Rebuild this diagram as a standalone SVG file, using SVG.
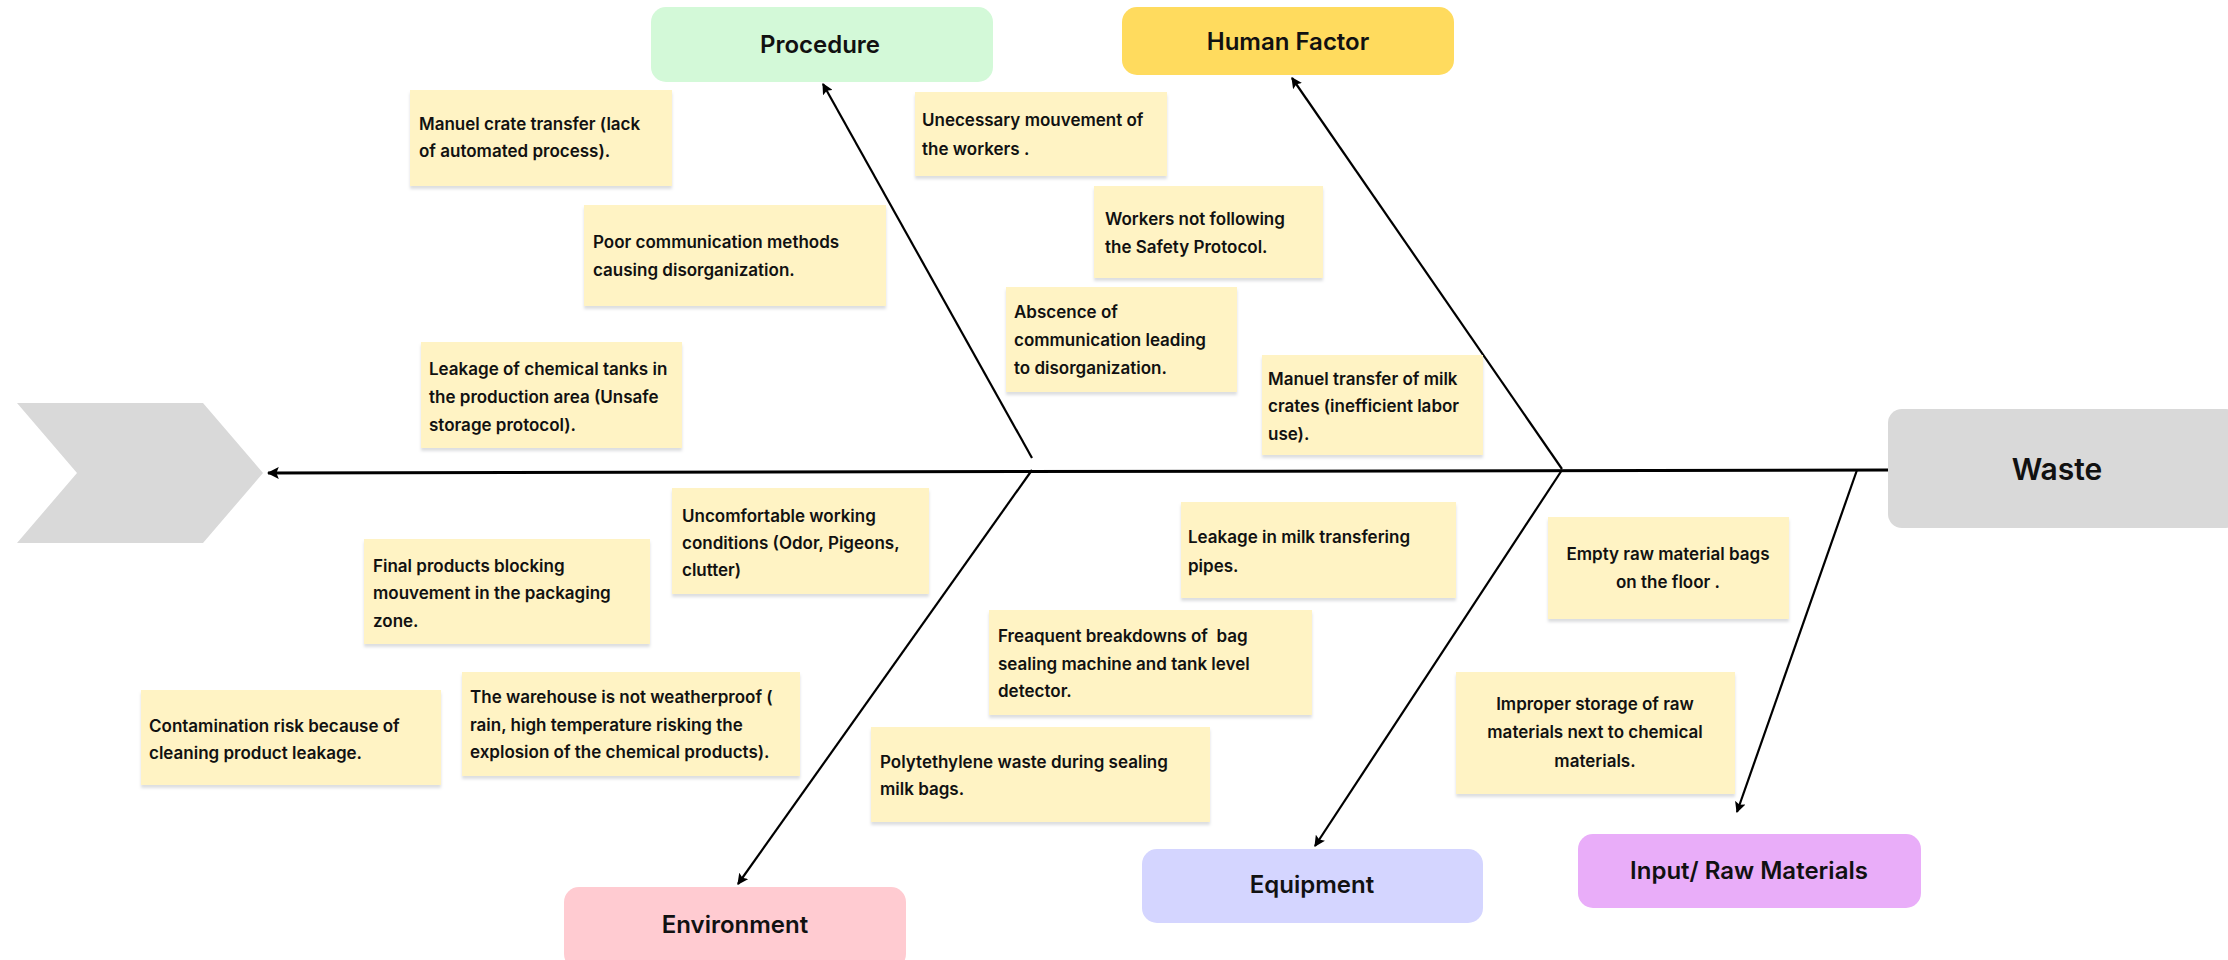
<svg xmlns="http://www.w3.org/2000/svg" width="2228" height="960" viewBox="0 0 2228 960">
  <defs>
    <style>
      .note { fill: #FFF3C4; filter: url(#noteShadow); }
      .nt { font-family: Inter, "Liberation Sans", sans-serif; font-size: 17px; font-weight: 600; fill: #111; }
      .ntc { font-family: Inter, "Liberation Sans", sans-serif; font-size: 17px; font-weight: 600; fill: #111; text-anchor: middle; }
      .cat { font-family: Inter, "Liberation Sans", sans-serif; font-size: 24px; font-weight: 600; fill: #111; text-anchor: middle; }
      .bone { stroke: #000; stroke-width: 2.2; fill: none; marker-end: url(#head); }
      .spine { stroke: #000; stroke-width: 3; fill: none; marker-end: url(#headSpine); }
    </style>
    <filter id="noteShadow" x="-5%" y="-5%" width="110%" height="120%">
      <feDropShadow dx="0" dy="3" stdDeviation="1.5" flood-color="#9aa0a6" flood-opacity="0.35"/>
    </filter>
    <marker id="head" viewBox="0 0 10 10" refX="9" refY="5" markerWidth="5" markerHeight="5" orient="auto" markerUnits="strokeWidth">
      <path d="M0,0 L10,5 L0,10 L2,5 Z" fill="#000"/>
    </marker>
    <marker id="headSpine" viewBox="0 0 10 10" refX="9" refY="5" markerWidth="4" markerHeight="4" orient="auto" markerUnits="strokeWidth">
      <path d="M0,0 L10,5 L0,10 L2,5 Z" fill="#000"/>
    </marker>
  </defs>

  <rect width="2228" height="960" fill="#fff"/>

  <!-- fish tail -->
  <g id="tail">
    <polygon points="17,403 203,403 263,473 203,543 17,543 77,473" fill="#D9D9D9"/>
  </g>

  <!-- connectors: spine and bones -->
  <g id="connectors">
    <line class="spine" x1="1888" y1="470" x2="268" y2="473"/>
    <line class="bone" x1="1032" y1="458" x2="823" y2="84"/>
    <line class="bone" x1="1562" y1="469" x2="1292" y2="78"/>
    <line class="bone" x1="1032" y1="470" x2="738" y2="884"/>
    <line class="bone" x1="1562" y1="470" x2="1315" y2="846"/>
    <line class="bone" x1="1857" y1="470" x2="1737" y2="812"/>
  </g>

  <!-- head -->
  <g id="waste">
    <rect x="1888" y="409" width="352" height="119" rx="14" fill="#D9D9D9"/>
    <text class="cat" x="2057" y="480" style="font-size:30px">Waste</text>
  </g>

  <!-- category boxes -->
  <g id="procedure">
    <rect x="651" y="7" width="342" height="75" rx="15" fill="#D3F9D8"/>
    <text class="cat" x="820" y="53">Procedure</text>
  </g>
  <g id="human-factor">
    <rect x="1122" y="7" width="332" height="68" rx="15" fill="#FFDB5E"/>
    <text class="cat" x="1288" y="50">Human Factor</text>
  </g>
  <g id="environment">
    <rect x="564" y="887" width="342" height="82" rx="15" fill="#FFCBD1"/>
    <text class="cat" x="735" y="933">Environment</text>
  </g>
  <g id="equipment">
    <rect x="1142" y="849" width="341" height="74" rx="15" fill="#D4D5FF"/>
    <text class="cat" x="1312" y="893">Equipment</text>
  </g>
  <g id="input-raw-materials">
    <rect x="1578" y="834" width="343" height="74" rx="15" fill="#E9ADF9"/>
    <text class="cat" x="1749" y="879">Input/ Raw Materials</text>
  </g>

  <!-- cause notes -->
  <g id="note-crate-transfer">
    <rect class="note" x="410" y="90" width="262" height="96"/>
    <text class="nt" x="419" y="130">Manuel crate transfer (lack</text>
    <text class="nt" x="419" y="157">of automated process).</text>
  </g>
  <g id="note-poor-communication">
    <rect class="note" x="584" y="205" width="302" height="101"/>
    <text class="nt" x="593" y="248">Poor communication methods</text>
    <text class="nt" x="593" y="276">causing disorganization.</text>
  </g>
  <g id="note-chemical-tanks">
    <rect class="note" x="421" y="342" width="261" height="106"/>
    <text class="nt" x="429" y="375">Leakage of chemical tanks in</text>
    <text class="nt" x="429" y="403">the production area (Unsafe</text>
    <text class="nt" x="429" y="431">storage protocol).</text>
  </g>
  <g id="note-movement">
    <rect class="note" x="915" y="92" width="252" height="84"/>
    <text class="nt" x="922" y="126">Unecessary mouvement of</text>
    <text class="nt" x="922" y="155">the workers .</text>
  </g>
  <g id="note-safety">
    <rect class="note" x="1094" y="186" width="229" height="92"/>
    <text class="nt" x="1105" y="225">Workers not following</text>
    <text class="nt" x="1105" y="253">the Safety Protocol.</text>
  </g>
  <g id="note-absence">
    <rect class="note" x="1006" y="287" width="231" height="105"/>
    <text class="nt" x="1014" y="318">Abscence of</text>
    <text class="nt" x="1014" y="346">communication leading</text>
    <text class="nt" x="1014" y="374">to disorganization.</text>
  </g>
  <g id="note-milk-crates">
    <rect class="note" x="1262" y="355" width="221" height="100"/>
    <text class="nt" x="1268" y="385">Manuel transfer of milk</text>
    <text class="nt" x="1268" y="412">crates (inefficient labor</text>
    <text class="nt" x="1268" y="440">use).</text>
  </g>
  <g id="note-working-conditions">
    <rect class="note" x="672" y="488" width="257" height="106"/>
    <text class="nt" x="682" y="522">Uncomfortable working</text>
    <text class="nt" x="682" y="549">conditions (Odor, Pigeons,</text>
    <text class="nt" x="682" y="576">clutter)</text>
  </g>
  <g id="note-final-products">
    <rect class="note" x="364" y="539" width="286" height="105"/>
    <text class="nt" x="373" y="572">Final products blocking</text>
    <text class="nt" x="373" y="599">mouvement in the packaging</text>
    <text class="nt" x="373" y="627">zone.</text>
  </g>
  <g id="note-contamination">
    <rect class="note" x="141" y="690" width="300" height="95"/>
    <text class="nt" x="149" y="732">Contamination risk because of</text>
    <text class="nt" x="149" y="759">cleaning product leakage.</text>
  </g>
  <g id="note-warehouse">
    <rect class="note" x="462" y="672" width="338" height="104"/>
    <text class="nt" x="470" y="703">The warehouse is not weatherproof (</text>
    <text class="nt" x="470" y="731">rain, high temperature risking the</text>
    <text class="nt" x="470" y="758">explosion of the chemical products).</text>
  </g>
  <g id="note-polyethylene">
    <rect class="note" x="871" y="727" width="339" height="95"/>
    <text class="nt" x="880" y="768">Polytethylene waste during sealing</text>
    <text class="nt" x="880" y="795">milk bags.</text>
  </g>
  <g id="note-breakdowns">
    <rect class="note" x="989" y="610" width="323" height="105"/>
    <text class="nt" x="998" y="642" style="white-space:pre">Freaquent breakdowns of  bag</text>
    <text class="nt" x="998" y="670">sealing machine and tank level</text>
    <text class="nt" x="998" y="697">detector.</text>
  </g>
  <g id="note-pipes">
    <rect class="note" x="1181" y="502" width="275" height="96"/>
    <text class="nt" x="1188" y="543">Leakage in milk transfering</text>
    <text class="nt" x="1188" y="572">pipes.</text>
  </g>
  <g id="note-empty-bags">
    <rect class="note" x="1548" y="517" width="241" height="102"/>
    <text class="ntc" x="1668" y="560">Empty raw material bags</text>
    <text class="ntc" x="1668" y="588">on the floor .</text>
  </g>
  <g id="note-improper-storage">
    <rect class="note" x="1456" y="672" width="279" height="122"/>
    <text class="ntc" x="1595" y="710">Improper storage of raw</text>
    <text class="ntc" x="1595" y="738">materials next to chemical</text>
    <text class="ntc" x="1595" y="767">materials.</text>
  </g>
</svg>
